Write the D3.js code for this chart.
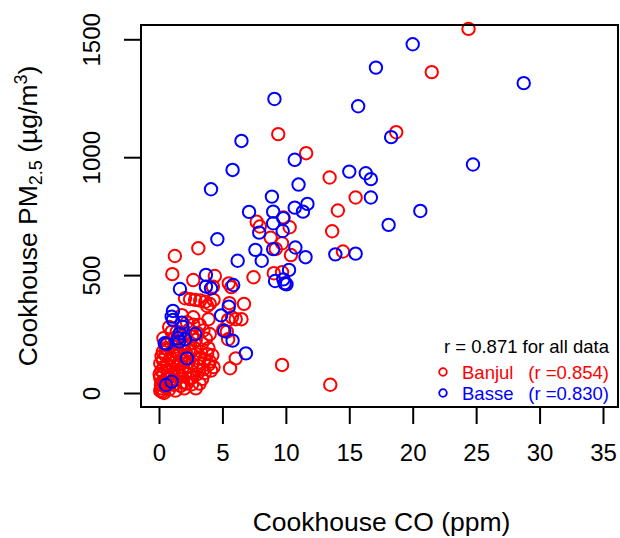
<!DOCTYPE html>
<html>
<head>
<script src="https://d3js.org/d3.v7.min.js"></script>
<style>
  body { margin: 0; background: #fff; }
  text { font-family: "Liberation Sans", Arial, sans-serif; }
</style>
</head>
<body>
<script>
// Cookhouse CO (ppm) vs PM2.5 (ug/m3), [co, pm]
const banjul = [
  [24.4,1544],[21.5,1361],[18.7,1106],[9.4,1098],[11.6,1017],[13.45,914],[15.5,829],[14.1,774],
  [7.7,726],[7.95,706],[9.8,745],[10.3,703],[13.65,686],[8.8,659],[9.7,635],[3.1,614],[1.25,581],
  [9.2,611],[10.4,585],[14.5,600],[7.45,491],[9.05,508],[9.7,512],[9.95,465],[5.5,465],[5.7,449],
  [5.55,381],[6.7,378],[1.05,504],[4.4,496],[2.7,479],[4.25,451],[2.45,398],[2.85,395],[3.25,392],
  [3.65,387],[4.0,378],[4.3,395],[3.8,369],[2.05,402],[2.7,321],[3.9,313],[5.75,321],[6.5,313],
  [5.45,310],[6.05,313],[5.35,260],[5.45,228],[5.05,267],[6.05,147],[5.6,105],[9.7,119],[13.5,35],
  [2.6,37],
  [0.1,10],[0.2,20],[0.15,35],[0.3,50],[0.1,65],[0.05,80],[0.2,95],[0.4,110],[0.1,125],[0.3,140],
  [0.5,25],[0.6,60],[0.7,90],[0.8,15],[0.9,40],[1.0,75],[1.1,100],[1.2,130],[0.5,160],[0.3,175],
  [0.7,185],[0.9,150],[1.3,55],[1.4,85],[1.5,120],[1.6,160],[1.2,195],[1.0,225],[0.35,232],[1.7,30],
  [1.8,70],[1.9,110],[2.0,140],[2.1,175],[2.3,205],[1.5,210],[2.0,250],[2.4,60],[2.5,95],[2.6,125],
  [2.7,160],[2.8,190],[2.9,225],[2.4,270],[3.0,80],[3.1,115],[3.2,145],[3.3,175],[3.4,210],[3.0,255],
  [3.5,100],[3.6,140],[3.8,165],[3.9,190],[4.0,133],[3.7,230],[4.2,160],[4.3,110],[3.2,290],[2.2,300],
  [1.4,260],[0.8,280],[1.8,330],[1.1,165],[0.6,205],[2.2,40],[3.4,60],[1.3,10],[0.4,0],[2.9,20],
  [0.25,5],[0.45,45],[0.6,120],[0.35,85],[0.8,65],[1.15,35],[1.5,95],[1.7,140],[1.3,175],[0.9,110],
  [1.9,45],[2.1,85],[2.3,130],[2.2,160],[2.5,175],[1.9,195],[2.6,240],[1.7,240],[2.0,20],[2.6,65],
  [3.2,40],[3.6,85],[3.9,120],[4.1,95],[0.2,155],[0.55,190],[1.0,260],[2.7,290],[3.5,265],[4.0,250]
];
const basse = [
  [17.1,1380],[9.1,1247],[15.7,1216],[6.5,1069],[10.7,989],[5.8,946],[15.0,939],[16.3,932],[16.7,907],
  [4.1,864],[11.0,884],[8.9,833],[16.7,829],[11.7,802],[10.7,786],[11.35,769],[7.1,768],[9.0,769],
  [9.0,720],[9.8,741],[7.9,680],[9.75,687],[4.6,652],[7.6,607],[9.0,610],[10.75,617],[13.9,588],
  [15.5,591],[20.0,1479],[28.75,1314],[18.3,1085],[24.75,969],[20.6,772],[18.1,713],[8.1,561],
  [6.2,561],[11.55,576],[10.25,522],[9.15,475],[9.8,482],[9.9,465],[10.05,461],[5.85,458],[5.5,366],
  [3.7,501],[1.65,441],[3.7,451],[4.1,444],[1.1,348],[1.0,324],[1.1,310],[4.9,329],[1.8,298],
  [5.15,263],[5.8,222],[1.85,281],[1.5,232],[2.05,228],[2.85,250],[0.6,208],[1.65,253],[6.85,168],
  [2.2,147],[0.55,34],[1.0,48],[0.45,211],[1.6,218]
];
const xTicks = [0, 5, 10, 15, 20, 25, 30, 35];
const yTicks = [0, 500, 1000, 1500];
const legendItems = [
  { label: 'Banjul', r: '(r =0.854)', color: '#ff0000' },
  { label: 'Basse', r: '(r =0.830)', color: '#0000ff' }
];

const width = 620, height = 538;
const box = { left: 141, right: 618, top: 25, bottom: 407 };

const svg = d3.select('body').append('svg')
  .attr('width', width)
  .attr('height', height);

const x = d3.scaleLinear().domain([0, 35]).range([159, 603]);
const y = d3.scaleLinear().domain([0, 1500]).range([393, 39.3]);

// points
function drawPoints(data, color) {
  svg.append('g').selectAll('circle')
    .data(data)
    .enter()
    .append('circle')
    .attr('cx', d => x(d[0]))
    .attr('cy', d => y(d[1]))
    .attr('r', 6.2)
    .attr('fill', 'none')
    .attr('stroke', color)
    .attr('stroke-width', 2);
}
drawPoints(banjul, '#ff0000');
drawPoints(basse, '#0000ff');

// box
svg.append('rect')
  .attr('x', box.left).attr('y', box.top)
  .attr('width', box.right - box.left).attr('height', box.bottom - box.top)
  .attr('fill', 'none').attr('stroke', '#000').attr('stroke-width', 2);

// x axis
const xAxis = d3.axisBottom(x).tickValues(xTicks).tickSize(17).tickPadding(20);
const gx = svg.append('g').attr('transform', `translate(0,${box.bottom})`).call(xAxis);
gx.select('.domain').remove();
gx.selectAll('line').attr('stroke-width', 2);
gx.selectAll('text').attr('font-size', 24).attr('fill', '#000')
  .style('font-family', '"Liberation Sans", Arial, sans-serif');

// y axis, labels rotated like R's default
const yAxis = d3.axisLeft(y).tickValues(yTicks).tickFormat(d3.format('d')).tickSize(17);
const gy = svg.append('g').attr('transform', `translate(${box.left},0)`).call(yAxis);
gy.select('.domain').remove();
gy.selectAll('line').attr('stroke-width', 2);
gy.selectAll('.tick text')
  .attr('x', 0).attr('y', 0).attr('dy', null)
  .attr('text-anchor', 'middle')
  .attr('dominant-baseline', 'central')
  .attr('transform', 'translate(-50,0) rotate(-90)')
  .attr('font-size', 24).attr('fill', '#000')
  .style('font-family', '"Liberation Sans", Arial, sans-serif');

// axis titles
svg.append('text')
  .attr('x', (box.left + box.right) / 2 + 2)
  .attr('y', 531)
  .attr('text-anchor', 'middle')
  .attr('font-size', 26.5)
  .text('Cookhouse CO (ppm)');

const yl = svg.append('text')
  .attr('transform', 'translate(37,216) rotate(-90)')
  .attr('text-anchor', 'middle')
  .attr('font-size', 26.5);
yl.append('tspan').text('Cookhouse PM');
yl.append('tspan').attr('font-size', 18).attr('dy', 5).text('2.5');
yl.append('tspan').attr('dy', -5).text(' (\u00b5g/m');
yl.append('tspan').attr('font-size', 18).attr('dy', -10).text('3');
yl.append('tspan').attr('dy', 10).text(')');

// legend
svg.append('text')
  .attr('x', 609).attr('y', 353)
  .attr('text-anchor', 'end')
  .attr('font-size', 18.5)
  .text('r = 0.871 for all data');

const lg = svg.append('g').selectAll('g')
  .data(legendItems)
  .enter()
  .append('g')
  .attr('transform', (d, i) => `translate(0,${372 + i * 21})`);
lg.append('circle')
  .attr('cx', 443).attr('cy', 0).attr('r', 3.8)
  .attr('fill', 'none').attr('stroke', d => d.color).attr('stroke-width', 1.8);
lg.append('text')
  .attr('x', 462).attr('y', 6.5)
  .attr('font-size', 18.5)
  .attr('fill', d => d.color)
  .text(d => d.label);
lg.append('text')
  .attr('x', 609).attr('y', 6.5)
  .attr('text-anchor', 'end')
  .attr('font-size', 18.5)
  .attr('fill', d => d.color)
  .text(d => d.r);
</script>
</body>
</html>
